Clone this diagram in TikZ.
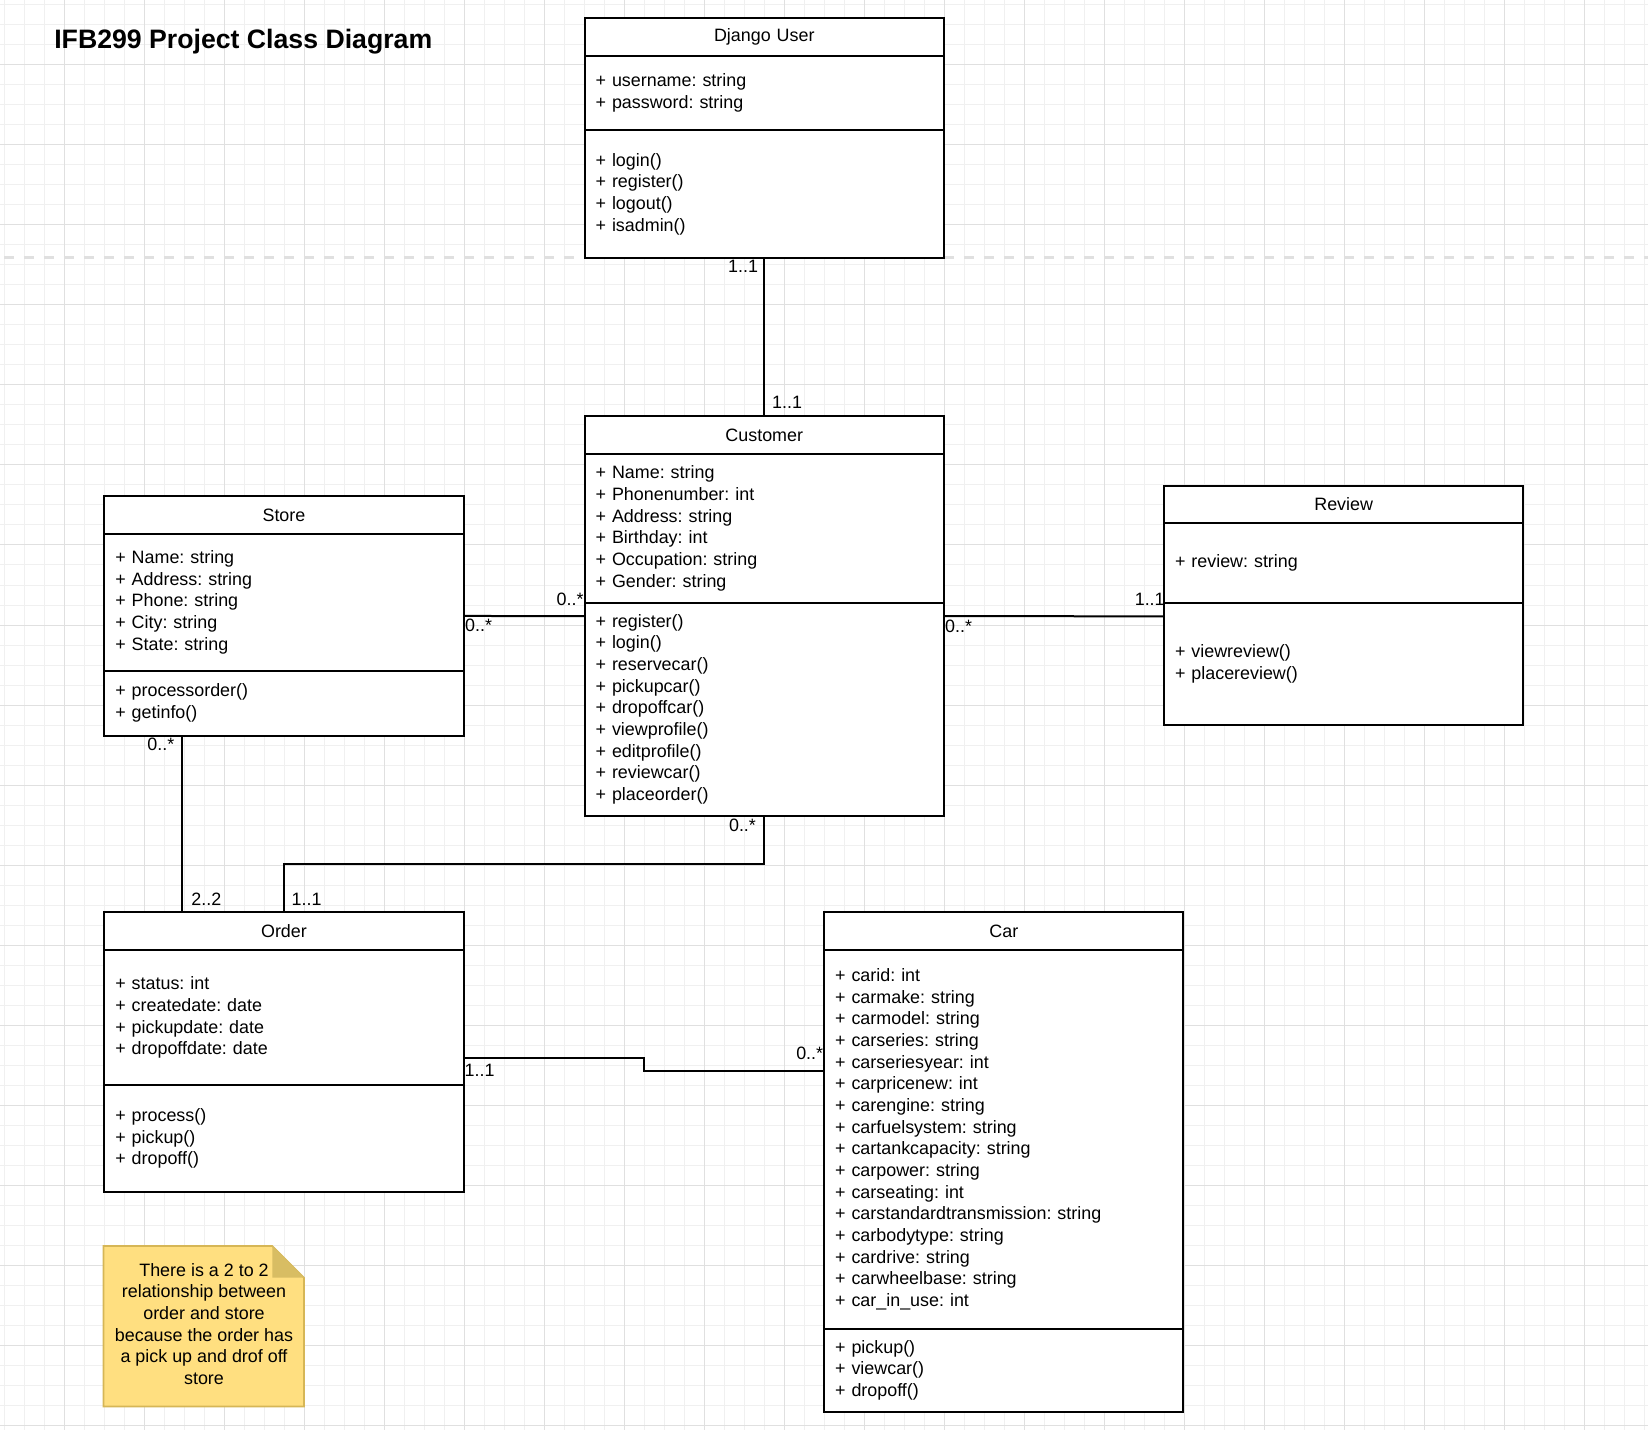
\documentclass[tikz,border=0pt]{standalone}
\usepackage{fontspec}
\setmainfont{Liberation Sans}
\usetikzlibrary{positioning}
\frenchspacing
\definecolor{gridminor}{RGB}{240,240,240}
\definecolor{gridmajor}{RGB}{224,224,224}
\definecolor{notefill}{RGB}{255,223,128}
\definecolor{noteedge}{RGB}{214,182,86}
\definecolor{notefold}{RGB}{216,189,99}
\tikzset{
  classhead/.style={draw, fill=white, line width=1.2pt, text width=202.4pt,
    inner xsep=6.6pt, inner ysep=0pt, outer sep=0pt, minimum height=#1, align=center},
  classbody/.style={classhead={#1}, align=left},
  assoc/.style={line width=1.2pt},
  mult/.style={inner sep=0pt},
}

\begin{document}
\begin{tikzpicture}[x=0.6pt, y=-0.6pt, font=\fontsize{10.74}{13}\selectfont]
  \useasboundingbox (0,0) rectangle (1648,1430);
  \fill[white] (0,0) rectangle (1648,1430);

  % grid and page break
  \foreach \i in {0,...,82}
    \draw[gridminor, line width=0.6pt] ({4.3+20*\i},0) -- ({4.3+20*\i},1430);
  \foreach \i in {0,...,71}
    \draw[gridminor, line width=0.6pt] (0,{5+20*\i}) -- (1648,{5+20*\i});
  \foreach \i in {0,...,19}
    \draw[gridmajor, line width=0.6pt] ({64.3+80*\i},0) -- ({64.3+80*\i},1430);
  \foreach \i in {0,...,17}
    \draw[gridmajor, line width=0.6pt] (0,{65+80*\i}) -- (1648,{65+80*\i});
  \draw[gridmajor, line width=1.6pt, dash pattern=on 6pt off 6pt] (4,257.7) -- (1648,257.7);

  \node[font=\fontsize{16}{19}\selectfont\bfseries, anchor=base west, inner sep=0pt]
    (title) at (54,49) {IFB299 Project Class Diagram};

  % classes
  \node[classhead=22.7pt, anchor=north west] (dj-head) at (584.6,17.9) {Django User};
  \node[classbody=44.8pt, below=0pt of dj-head] (dj-attr) {+ username: string\\+ password: string};
  \node[classbody=76.3pt, below=0pt of dj-attr] (dj-meth) {+ login()\\+ register()\\+ logout()\\+ isadmin()};

  \node[classhead=23.1pt, below=94.9pt of dj-meth] (cu-head) {Customer};
  \node[classbody=89pt, below=0pt of cu-head] (cu-attr) {+ Name: string\\+ Phonenumber: int\\+ Address: string\\+ Birthday: int\\+ Occupation: string\\+ Gender: string};
  \node[classbody=128pt, below=0pt of cu-attr] (cu-meth) {+ register()\\+ login()\\+ reservecar()\\+ pickupcar()\\+ dropoffcar()\\+ viewprofile()\\+ editprofile()\\+ reviewcar()\\+ placeorder()};

  \node[classhead=22.7pt, anchor=north west] (st-head) at (104.3,496.1) {Store};
  \node[classbody=82pt, below=0pt of st-head] (st-attr) {+ Name: string\\+ Address: string\\+ Phone: string\\+ City: string\\+ State: string};
  \node[classbody=39.1pt, below=0pt of st-attr] (st-meth) {+ processorder()\\+ getinfo()};

  \node[classhead=22.7pt, anchor=north west] (rv-head) at (1164,485.6) {Review};
  \node[classbody=47.5pt, below=0pt of rv-head] (rv-attr) {+ review: string};
  \node[classbody=73.6pt, below=0pt of rv-attr] (rv-meth) {+ viewreview()\\+ placereview()};

  \node[classhead=23pt, below=105.7pt of st-meth] (or-head) {Order};
  \node[classbody=80.8pt, below=0pt of or-head] (or-attr) {+ status: int\\+ createdate: date\\+ pickupdate: date\\+ dropoffdate: date};
  \node[classbody=64.2pt, below=0pt of or-attr] (or-meth) {+ process()\\+ pickup()\\+ dropoff()};

  \node[classhead=23pt, right=216.3pt of or-head] (cr-head) {Car};
  \node[classbody=227pt, below=0pt of cr-head] (cr-attr) {+ carid: int\\+ carmake: string\\+ carmodel: string\\+ carseries: string\\+ carseriesyear: int\\+ carpricenew: int\\+ carengine: string\\+ carfuelsystem: string\\+ cartankcapacity: string\\+ carpower: string\\+ carseating: int\\+ carstandardtransmission: string\\+ carbodytype: string\\+ cardrive: string\\+ carwheelbase: string\\+ car\_in\_use: int};
  \node[classbody=49.8pt, below=0pt of cr-attr] (cr-meth) {+ pickup()\\+ viewcar()\\+ dropoff()};

  % note
  \draw[fill=notefill, draw=noteedge, line width=1pt] (103.5,1246) -- (272.3,1246) -- (304,1277.7) -- (304,1406.5) -- (103.5,1406.5) -- cycle;
  \fill[notefold] (272.3,1246) -- (304,1277.7) -- (272.3,1277.7) -- cycle;
  \node[align=center, inner sep=0pt] (note) at (204,1324) {There is a 2 to 2\\relationship between\\order and store\\because the order has\\a pick up and drof off\\store};

  % associations
  \draw[assoc] (dj-meth.south) --
    node[mult, at start, anchor=base east, xshift=-3.1pt, yshift=-9.1pt] {1..1}
    node[mult, at end, anchor=base west, xshift=4.1pt, yshift=4.3pt] {1..1}
    (cu-head.north);
  \draw[assoc] ([yshift=-8.2pt]st-attr.east) --
    node[mult, at start, anchor=base west, xshift=0.3pt, yshift=-9.6pt] {0..*}
    node[mult, at end, anchor=base east, yshift=6.6pt] {0..*}
    ([yshift=-8.2pt]cu-meth.north west);
  \draw[assoc] ([yshift=-8.2pt]cu-meth.north east) --
    node[mult, at start, anchor=base west, xshift=0.1pt, yshift=-9.6pt] {0..*}
    node[mult, at end, anchor=base east, xshift=1pt, yshift=6.6pt] {1..1}
    ([yshift=-8.2pt]rv-meth.north west);
  \draw[assoc] ([xshift=46.8pt]st-meth.south west) --
    node[mult, at start, anchor=base east, xshift=-4.2pt, yshift=-9pt] {0..*}
    node[mult, at end, anchor=base west, xshift=4.9pt, yshift=4pt] {2..2}
    ([xshift=46.8pt]or-head.north west);
  \draw[assoc] (cu-meth.south) --
    node[mult, at start, anchor=base east, xshift=-4.4pt, yshift=-9.1pt] {0..*}
    ++(0,48.4) -|
    node[mult, at end, anchor=base west, xshift=4pt, yshift=4pt] {1..1}
    (or-head.north);
  \draw[assoc] ([yshift=-24.3pt]or-attr.east) --
    node[mult, at start, anchor=base west, yshift=-11.2pt] {1..1}
    ++(180.5,0) |-
    node[mult, at end, anchor=base east, yshift=6.8pt] {0..*}
    ([yshift=41.2pt]cr-attr.west);
\end{tikzpicture}
\end{document}
